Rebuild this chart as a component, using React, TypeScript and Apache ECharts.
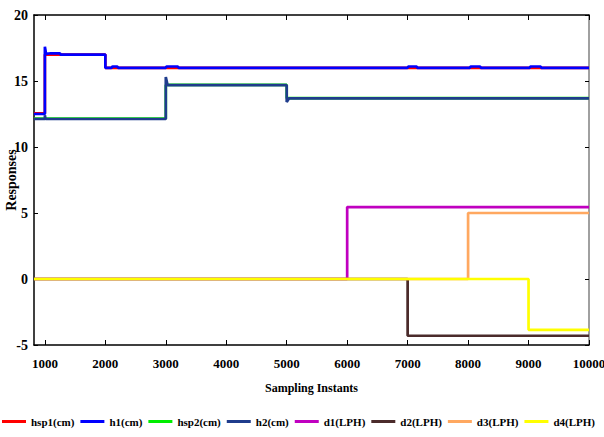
import React, { useEffect, useRef } from "react";
import * as echarts from "echarts";

// Step responses of the two tank levels and disturbance flows
const hsp1: number[][] = [[820, 12.55], [1000, 12.55], [1000, 17], [2000, 17], [2000, 16], [10000, 16]];
const h1: number[][] = [
  [820, 12.5], [1000, 12.5], [1000, 17.6], [1020, 17.05], [1100, 17.1], [1250, 17.1], [1260, 17.0],
  [2000, 17.0], [2000, 16.0], [2100, 16.0], [2120, 16.1], [2200, 16.1], [2210, 16.0],
  [3000, 16.0], [3010, 16.1], [3200, 16.1], [3210, 16.0], [7000, 16.0], [7010, 16.1], [7150, 16.1],
  [7160, 16.0], [8030, 16.0], [8040, 16.1], [8200, 16.1], [8210, 16.0], [9020, 16.0], [9030, 16.1],
  [9200, 16.1], [9210, 16.0], [10000, 16.0],
];
const hsp2: number[][] = [[820, 12.15], [3000, 12.15], [3000, 14.7], [5000, 14.7], [5000, 13.7], [10000, 13.7]];
const h2: number[][] = [
  [820, 12.12], [1000, 12.12], [1000, 12.4], [1010, 12.12], [3000, 12.12], [3000, 15.3], [3030, 14.68],
  [5000, 14.68], [5000, 13.4], [5040, 13.69], [10000, 13.69],
];
const d1: number[][] = [[820, 0], [6000, 0], [6000, 5.45], [10000, 5.45]];
const d2: number[][] = [[820, 0], [7000, 0], [7000, -4.3], [10000, -4.3]];
const d3: number[][] = [[820, 0], [8000, 0], [8000, 5.0], [10000, 5.0]];
const d4: number[][] = [[820, 0], [9000, 0], [9000, -3.85], [10000, -3.85]];

const xTicks = [1000, 2000, 3000, 4000, 5000, 6000, 7000, 8000, 9000, 10000];

const seriesNames = ["hsp1(cm)", "h1(cm)", "hsp2(cm)", "h2(cm)", "d1(LPH)", "d2(LPH)", "d3(LPH)", "d4(LPH)"];
const seriesData = [hsp1, h1, hsp2, h2, d1, d2, d3, d4];
const seriesColors = ["#ff0000", "#0000ff", "#00ee00", "#1f3c8c", "#c000c0", "#4b2b2b", "#ffa860", "#ffff00"];

const FONT = "Liberation Serif";

export default function App() {
  const ref = useRef<HTMLDivElement>(null);

  useEffect(() => {
    if (!ref.current) return;
    const chart = echarts.init(ref.current, undefined, { renderer: "svg" });
    const labelStyle = { fontFamily: FONT, fontWeight: "bold" as const, fontSize: 13, color: "#000" };
    chart.setOption({
      animation: false,
      backgroundColor: "#fff",
      grid: { left: 34, right: 15, top: 15, bottom: 92, outerBoundsMode: "none", containLabel: false },
      legend: {
        bottom: 10,
        left: 2,
        right: 0,
        padding: 0,
        icon: "rect",
        itemWidth: 24,
        itemHeight: 3,
        itemGap: 6,
        textStyle: { fontFamily: FONT, fontWeight: "bold", fontSize: 11, color: "#000" },
        data: seriesNames,
      },
      xAxis: [
        {
          type: "value",
          min: 820,
          max: 10000,
          name: "Sampling Instants",
          nameLocation: "middle",
          nameGap: 37,
          nameMoveOverlap: false,
          nameTextStyle: { ...labelStyle, fontSize: 12 },
          axisLine: { onZero: false, lineStyle: { color: "#000", width: 1.5 } },
          axisTick: { inside: true, length: 5, customValues: xTicks, lineStyle: { color: "#000" } },
          axisLabel: { ...labelStyle, customValues: xTicks, margin: 12, formatter: (v: number) => String(v) },
          splitLine: { show: false },
        },
        {
          type: "value",
          position: "top",
          min: 820,
          max: 10000,
          axisLine: { onZero: false, lineStyle: { color: "#000", width: 1.5 } },
          axisTick: { inside: true, length: 5, customValues: xTicks, lineStyle: { color: "#000" } },
          axisLabel: { show: false },
          splitLine: { show: false },
        },
      ],
      yAxis: [
        {
          type: "value",
          min: -5,
          max: 20,
          interval: 5,
          name: "Responses",
          nameLocation: "middle",
          nameGap: 16,
          nameMoveOverlap: false,
          nameTextStyle: { ...labelStyle, fontSize: 14 },
          axisLine: { show: true, onZero: false, lineStyle: { color: "#000", width: 1.5 } },
          axisTick: { show: true, inside: true, length: 4, lineStyle: { color: "#000" } },
          axisLabel: { ...labelStyle, fontSize: 14, margin: 6 },
          splitLine: { show: false },
        },
        {
          type: "value",
          position: "right",
          min: -5,
          max: 20,
          interval: 5,
          axisLine: { show: true, onZero: false, lineStyle: { color: "#808080", width: 1.5 } },
          axisTick: { show: true, inside: true, length: 4, lineStyle: { color: "#000" } },
          axisLabel: { show: false },
          splitLine: { show: false },
        },
      ],
      series: seriesNames.map((name, i) => ({
        name,
        type: "line",
        data: seriesData[i],
        showSymbol: false,
        symbol: "none",
        color: seriesColors[i],
        lineStyle: { width: 2.7, color: seriesColors[i] },
        z: 2 + i,
      })),
    });
    return () => chart.dispose();
  }, []);

  return <div ref={ref} style={{ position: "fixed", left: 0, top: 0, width: 604, height: 437 }} />;
}
